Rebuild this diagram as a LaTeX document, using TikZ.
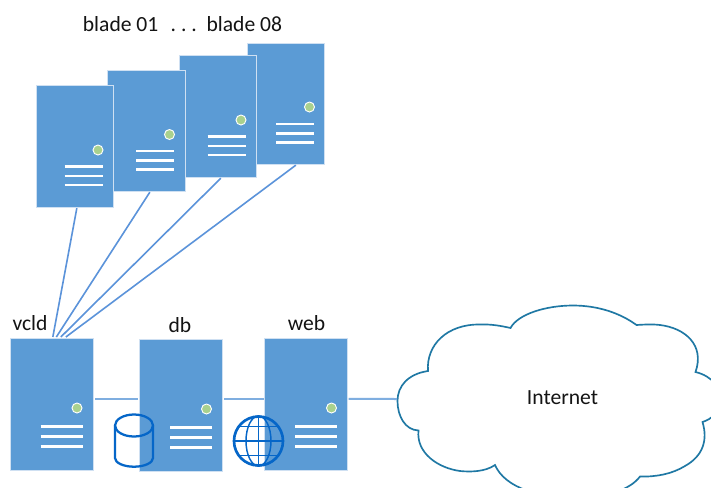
\documentclass[tikz,border=0pt]{standalone}
\usepackage{fontspec}
\setmainfont{Carlito}
\usetikzlibrary{calc}
\definecolor{srvblue}{HTML}{5B9BD5}
\definecolor{srvedge}{HTML}{CFE0F2}
\definecolor{dotgreen}{HTML}{A9D18E}
\definecolor{linkblue}{HTML}{7FAEE0}
\definecolor{bladelink}{HTML}{5B93DA}
\definecolor{iconblue}{HTML}{0566C8}
\definecolor{cloudblue}{HTML}{1F78A4}
\tikzset{
  px/.style={x=0.75pt,y=-0.75pt},
  srvbox/.style={rectangle,draw=srvedge,line width=0.5pt,fill=srvblue,inner sep=0pt,anchor=north west},
  srvdot/.style={draw=white,line width=0.7pt,fill=dotgreen},
  srvbar/.style={draw=white,line width=1.9pt},
  lan/.style={draw=linkblue,line width=1.5pt},
  bladewire/.style={draw=bladelink,line width=1.2pt},
  label/.style={inner sep=0pt,font=\fontsize{16.2}{19}\selectfont,text=black!92},
  icon/.style={draw=iconblue,line width=1.7pt},
  iconthin/.style={draw=iconblue,line width=1.1pt},
  cloudline/.style={draw=cloudblue,line width=1.25pt,fill=white}
}
% name, left, top, width, height, dot dx, dot dy, bar x0, bar y0
\newcommand{\srvnode}[9]{%
  \node[srvbox,minimum width=#4*0.75pt,minimum height=#5*0.75pt] (#1) at (#2,#3) {};
  \fill[srvdot] (#2+#6,#3+#7) circle[radius=5];
  \foreach \k in {0,1,2} {
    \draw[srvbar] (#2+#8,#3+#9+\k*\srvgap) -- (#2+\srvbarend,#3+#9+\k*\srvgap);
  }
}
\begin{document}
\begin{tikzpicture}[px]
\useasboundingbox (0,0) rectangle (711,487);
\fill[white] (0,0) rectangle (711,487);

% blades, back to front
\def\srvgap{9.3}\def\srvbarend{67}
\srvnode{b4}{247}{42.5}{77}{121}{62.5}{64.5}{29}{81.5}
\srvnode{b3}{178.5}{55}{77.5}{121.5}{62.5}{65}{29}{81.5}
\srvnode{b2}{107}{69.5}{77.5}{121}{62.5}{65}{29}{81.5}
\srvnode{b1}{35.5}{85}{77.5}{121.5}{62.5}{65}{29}{81.5}

% front servers
\def\srvgap{10}\def\srvbarend{73}
\srvnode{vcld}{9.5}{338}{83}{131.5}{67.5}{70}{31}{88.5}
\srvnode{db}{139}{339}{83}{131.5}{67.5}{70}{31}{88.5}
\srvnode{web}{264}{338}{83}{131.5}{67.5}{70}{31}{88.5}

% cloud
\begin{scope}
\clip (0,0) rectangle (711,487);
\draw[cloudline] (428,371)
  .. controls (426,345) and (447,324) .. (480,324.5)
  .. controls (491,324) and (502,326) .. (510.5,328)
  .. controls (518,314) and (546,305.5) .. (573,305.5)
  .. controls (598,305.5) and (620,313) .. (636.5,325)
  .. controls (645,324.5) and (652,324) .. (660,325)
  .. controls (685,328) and (705,345) .. (695.5,372)
  .. controls (712,376) and (722,388) .. (720,402)
  .. controls (719,412) and (712,419) .. (702.5,422)
  .. controls (708,440) and (703,456) .. (685,466)
  .. controls (672,474) and (656,477) .. (640,476.5)
  .. controls (630,490) and (605,498) .. (575,498)
  .. controls (540,498) and (505,488) .. (495,465)
  .. controls (485,472) and (470,472) .. (460,471)
  .. controls (438,468) and (416,453) .. (418.5,430.5)
  .. controls (405,430) and (397.5,416) .. (397.5,401)
  .. controls (397.5,386) and (408,374) .. (428,371) -- cycle;
\end{scope}
\node[label] (inet) at (562.5,398) {Internet};
\coordinate (cloudw) at (397,399);

% links
\draw[bladewire] ($(b1.south)+(2.25,1)$) -- ($(vcld.north)+(1.5,-1)$);
\draw[bladewire] ($(b2.south)+(3.75,1)$) -- ($(vcld.north)+(5,-1)$);
\draw[bladewire] ($(b3.south)+(3.25,1)$) -- ($(vcld.north)+(9.5,-1)$);
\draw[bladewire] ($(b4.south)+(10,1)$) -- ($(vcld.north)+(14.5,-1)$);
\draw[lan] ($(vcld.east)+(2,-5.25)$) -- ($(db.west)+(-1.5,-6.25)$);
\draw[lan] ($(db.east)+(1.5,-6.25)$) -- ($(web.west)+(0,-5.25)$);
\draw[lan] ($(web.east)+(1,-5.25)$) -- (cloudw);

% database icon
\draw[icon] (134,425.5) ellipse[x radius=19,y radius=11];
\draw[icon] (115,425.5) -- (115,458) arc[start angle=180,end angle=0,x radius=19,y radius=8.7] -- (153,425.5);

% globe icon
\draw[iconthin] (258.5,441) ellipse[x radius=12.5,y radius=25];
\draw[iconthin] (258.5,416) -- (258.5,466);
\draw[iconthin] (233.5,441) -- (283.5,441);
\draw[iconthin] (238,426.5) -- (279,426.5);
\draw[iconthin] (238,455.5) -- (279,455.5);
\draw[icon,line width=2pt] (258.5,441) circle[radius=24.5];

% labels
\node[label] (bladelabel) at (182.5,24) {blade 01\hspace{1.9pt}\ \ .\ .\ .\ \ blade 08};
\node[label] (vcldlabel) at (30,323) {vcld};
\node[label] (dblabel) at (180,325) {db};
\node[label] (weblabel) at (306.5,323) {web};
\end{tikzpicture}
\end{document}
